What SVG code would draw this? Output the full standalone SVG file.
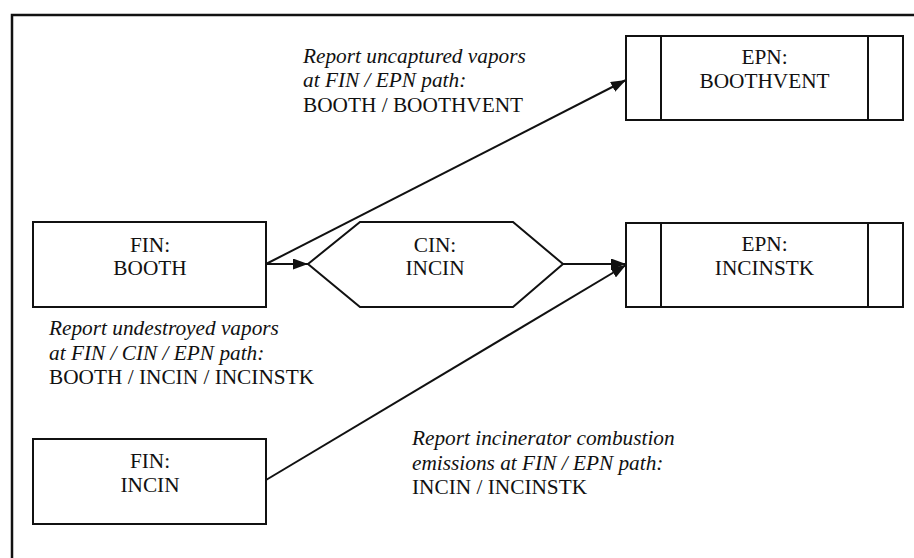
<svg xmlns="http://www.w3.org/2000/svg" width="914" height="558" viewBox="0 0 914 558">
<defs>
<style>
.box{fill:#fff;stroke:#111;stroke-width:2}
.t{font-family:"Liberation Serif","Times New Roman",serif;font-size:21.3px;fill:#111}
.c{text-anchor:middle}
.i{font-style:italic}
.ln{stroke:#111;stroke-width:2;fill:none}
</style>
<marker id="ah" viewBox="0 0 15 11" refX="15" refY="5.5" markerWidth="15" markerHeight="11" markerUnits="userSpaceOnUse" orient="auto">
<path d="M0,0 L15,5.5 L0,11 Z" fill="#111"/>
</marker>
</defs>
<rect width="914" height="558" fill="#fff"/>
<path d="M12,560 L12,15 L916,15" fill="none" stroke="#111" stroke-width="2.5"/>

<g id="connectors">
<line class="ln" x1="266" y1="264" x2="626" y2="80" marker-end="url(#ah)"/>
<line class="ln" x1="266" y1="264" x2="308" y2="264" marker-end="url(#ah)"/>
<line class="ln" x1="563" y1="264" x2="626" y2="264" marker-end="url(#ah)"/>
<line class="ln" x1="266" y1="480" x2="626" y2="265" marker-end="url(#ah)"/>
</g>

<g id="fin-booth">
<rect class="box" x="33" y="222" width="233" height="85"/>
<text class="t c" x="150" y="252">FIN:</text>
<text class="t c" x="150" y="275">BOOTH</text>
</g>

<g id="cin-incin">
<polygon class="box" points="308,264 360,222 513,222 563,264 513,307 360,307"/>
<text class="t c" x="435" y="252">CIN:</text>
<text class="t c" x="435" y="275">INCIN</text>
</g>

<g id="epn-boothvent">
<rect class="box" x="626" y="36" width="277" height="84"/>
<line class="ln" x1="661" y1="36" x2="661" y2="120"/>
<line class="ln" x1="868" y1="36" x2="868" y2="120"/>
<text class="t c" x="764.5" y="64">EPN:</text>
<text class="t c" x="764.5" y="88">BOOTHVENT</text>
</g>

<g id="epn-incinstk">
<rect class="box" x="626" y="223" width="277" height="84"/>
<line class="ln" x1="661" y1="223" x2="661" y2="307"/>
<line class="ln" x1="868" y1="223" x2="868" y2="307"/>
<text class="t c" x="764.5" y="251">EPN:</text>
<text class="t c" x="764.5" y="275">INCINSTK</text>
</g>

<g id="fin-incin">
<rect class="box" x="33" y="439" width="233" height="85"/>
<text class="t c" x="150" y="468">FIN:</text>
<text class="t c" x="150" y="492">INCIN</text>
</g>

<g id="label-uncaptured">
<text class="t i" x="303" y="63">Report uncaptured vapors</text>
<text class="t i" x="303" y="87">at FIN / EPN path:</text>
<text class="t" x="303" y="112">BOOTH / BOOTHVENT</text>
</g>

<g id="label-undestroyed">
<text class="t i" x="49" y="335">Report undestroyed vapors</text>
<text class="t i" x="49" y="360">at FIN / CIN / EPN path:</text>
<text class="t" x="49" y="384">BOOTH / INCIN / INCINSTK</text>
</g>

<g id="label-combustion">
<text class="t i" x="412" y="445">Report incinerator combustion</text>
<text class="t i" x="412" y="470">emissions at FIN / EPN path:</text>
<text class="t" x="412" y="494">INCIN / INCINSTK</text>
</g>
</svg>
